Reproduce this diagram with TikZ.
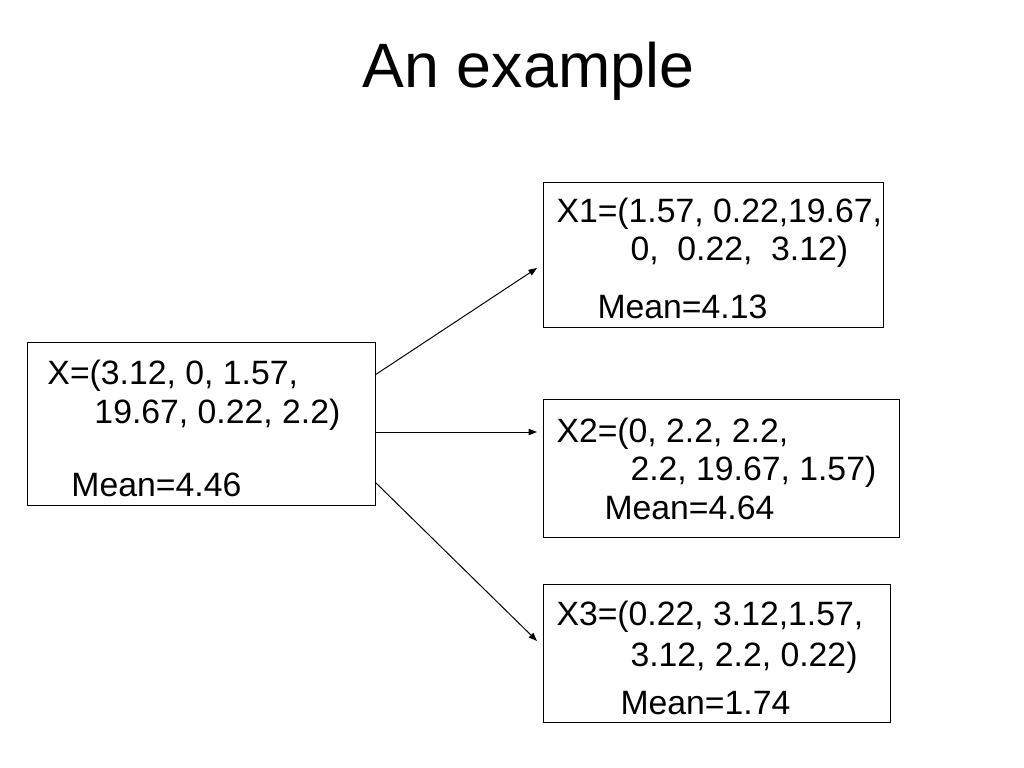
\documentclass[tikz,border=0pt]{standalone}
\usepackage{fontspec}
\setmainfont{Liberation Sans}
\usetikzlibrary{arrows.meta}

\begin{document}
\begin{tikzpicture}[x = 0.025cm, y = -0.025cm, line width = 0.7pt,
                        vecbox/.style = {draw, inner sep = 0pt},
                        vecline/.style = {anchor = base west, inner sep = 0pt, font = \fontsize{24}{27}\selectfont},
                        link/.style = {-{Triangle[length = 6pt, width = 4.5pt]}}]
      \useasboundingbox (0, 0) rectangle (1024, 768);
      \node [anchor = base, inner sep = 0pt, font = \fontsize{44.6}{50}\selectfont] (title) at (528.5, 88){An example};
      % parent vector
      \node [vecbox, minimum width = 8.675cm, minimum height = 4.05cm] (x) at (201.5, 424){};
      \node [vecline] (x-l1) at (47, 384){X=(3.12, 0, 1.57,};
      \node [vecline] (x-l2) at (94, 423){19.67, 0.22, 2.2)};
      \node [vecline] (x-mean) at (71, 496){Mean=4.46};
      % resampled vectors
      \node [vecbox, minimum width = 8.475cm, minimum height = 3.6cm] (x1) at (713.5, 255){};
      \node [vecline] (x1-l1) at (556, 222){X1=(1.57, 0.22,19.67,};
      \node [vecline] (x1-l2) at (630, 260){0,\ \ 0.22,\ \ 3.12)};
      \node [vecline] (x1-mean) at (597, 318){Mean=4.13};
      \node [vecbox, minimum width = 8.875cm, minimum height = 3.425cm] (x2) at (721.5, 468.5){};
      \node [vecline] (x2-l1) at (556, 442){X2=(0, 2.2, 2.2,};
      \node [vecline] (x2-l2) at (630, 480){2.2, 19.67, 1.57)};
      \node [vecline] (x2-mean) at (604, 519){Mean=4.64};
      \node [vecbox, minimum width = 8.65cm, minimum height = 3.425cm] (x3) at (717, 653.5){};
      \node [vecline] (x3-l1) at (556, 625){X3=(0.22, 3.12,1.57,};
      \node [vecline] (x3-l2) at (630, 666){3.12, 2.2, 0.22)};
      \node [vecline] (x3-mean) at (620, 714){Mean=1.74};
      % arrows
      \coordinate (x-out1) at (375, 375);
      \coordinate (x-out2) at (375, 432);
      \coordinate (x-out3) at (375, 482);
      \coordinate (x1-in) at (537, 268);
      \coordinate (x2-in) at (537, 432);
      \coordinate (x3-in) at (537, 641);
      \draw [link] (x-out1) -- (x1-in);
      \draw [link] (x-out2) -- (x2-in);
      \draw [link] (x-out3) -- (x3-in);
    \end{tikzpicture}
\end{document}
